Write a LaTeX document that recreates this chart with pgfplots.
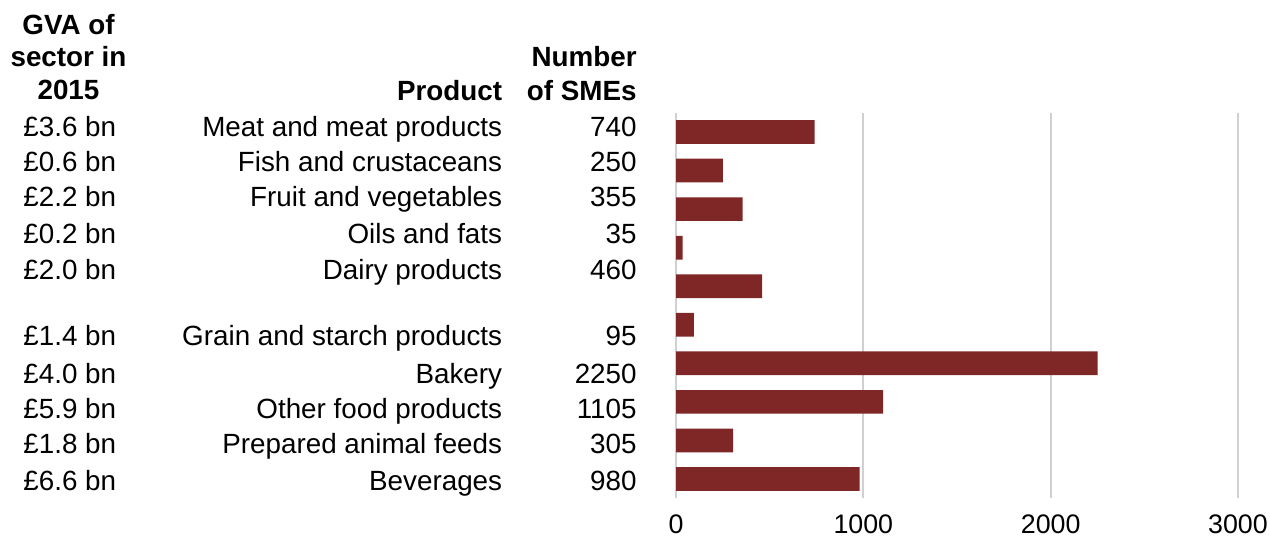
\documentclass[border=0pt]{standalone}
\usepackage{fontspec}
\setmainfont{Liberation Sans}
\usepackage{pgfplots}
\pgfplotsset{compat=1.18}
\definecolor{barred}{RGB}{127,38,39}
\definecolor{gridgray}{RGB}{208,208,208}
\begin{document}
\begin{tikzpicture}
\useasboundingbox (0,0) rectangle (635pt,-268.5pt);
\begin{axis}[
  at={(338pt,-56.375pt)}, anchor=north west,
  scale only axis, width=281pt, height=192.75pt,
  xbar, bar width=11.85pt,
  xmin=0, xmax=3000, ymin=-0.5, ymax=9.5,
  xtick={0,1000,2000,3000}, ytick=\empty,
  xmajorgrids, major grid style={gridgray, line width=1pt},
  axis line style={draw=none},
  major tick length=0pt,
  /pgf/number format/assume math mode=true,
  /pgf/number format/1000 sep={},
  tick label style={font=\fontsize{13.4}{15}\selectfont},
  xticklabel style={anchor=base, yshift=-17.6pt, inner sep=0pt},
  clip=false,
]
% y = 9 is the top row (Meat), y = 0 the bottom row (Beverages)
\addplot[fill=barred, draw=none] coordinates {
  (740,9) (250,8) (355,7) (35,6) (460,5)
  (95,4) (2250,3) (1105,2) (305,1) (980,0)
};
\end{axis}
\begin{scope}[x=0.5pt,y=-0.5pt, every node/.style={inner sep=0pt, font=\fontsize{13.9}{16}\selectfont}]
\node[anchor=base] at (68.5,34.3) {\bfseries GVA of};
\node[anchor=base] at (68.5,66.7) {\bfseries sector in};
\node[anchor=base] at (68.5,99.3) {\bfseries 2015};
\node[anchor=base east] at (502.5,100) {\bfseries Product};
\node[anchor=base east] at (637,66) {\bfseries Number};
\node[anchor=base east] at (637,100) {\bfseries of SMEs};
\foreach \yb/\g/\p/\n in {
  136.7/3.6/Meat and meat products/740,
  171.7/0.6/Fish and crustaceans/250,
  206.7/2.2/Fruit and vegetables/355,
  243/0.2/Oils and fats/35,
  279.3/2.0/Dairy products/460,
  345/1.4/Grain and starch products/95,
  383.3/4.0/Bakery/2250,
  418.3/5.9/Other food products/1105,
  453.3/1.8/Prepared animal feeds/305,
  490/6.6/Beverages/980}{
  \node[anchor=base west] at (23,\yb) {£\g\ bn};
  \node[anchor=base east] at (502.5,\yb) {\p};
  \node[anchor=base east] at (637,\yb) {\n};
}
\end{scope}
\end{tikzpicture}
\end{document}
